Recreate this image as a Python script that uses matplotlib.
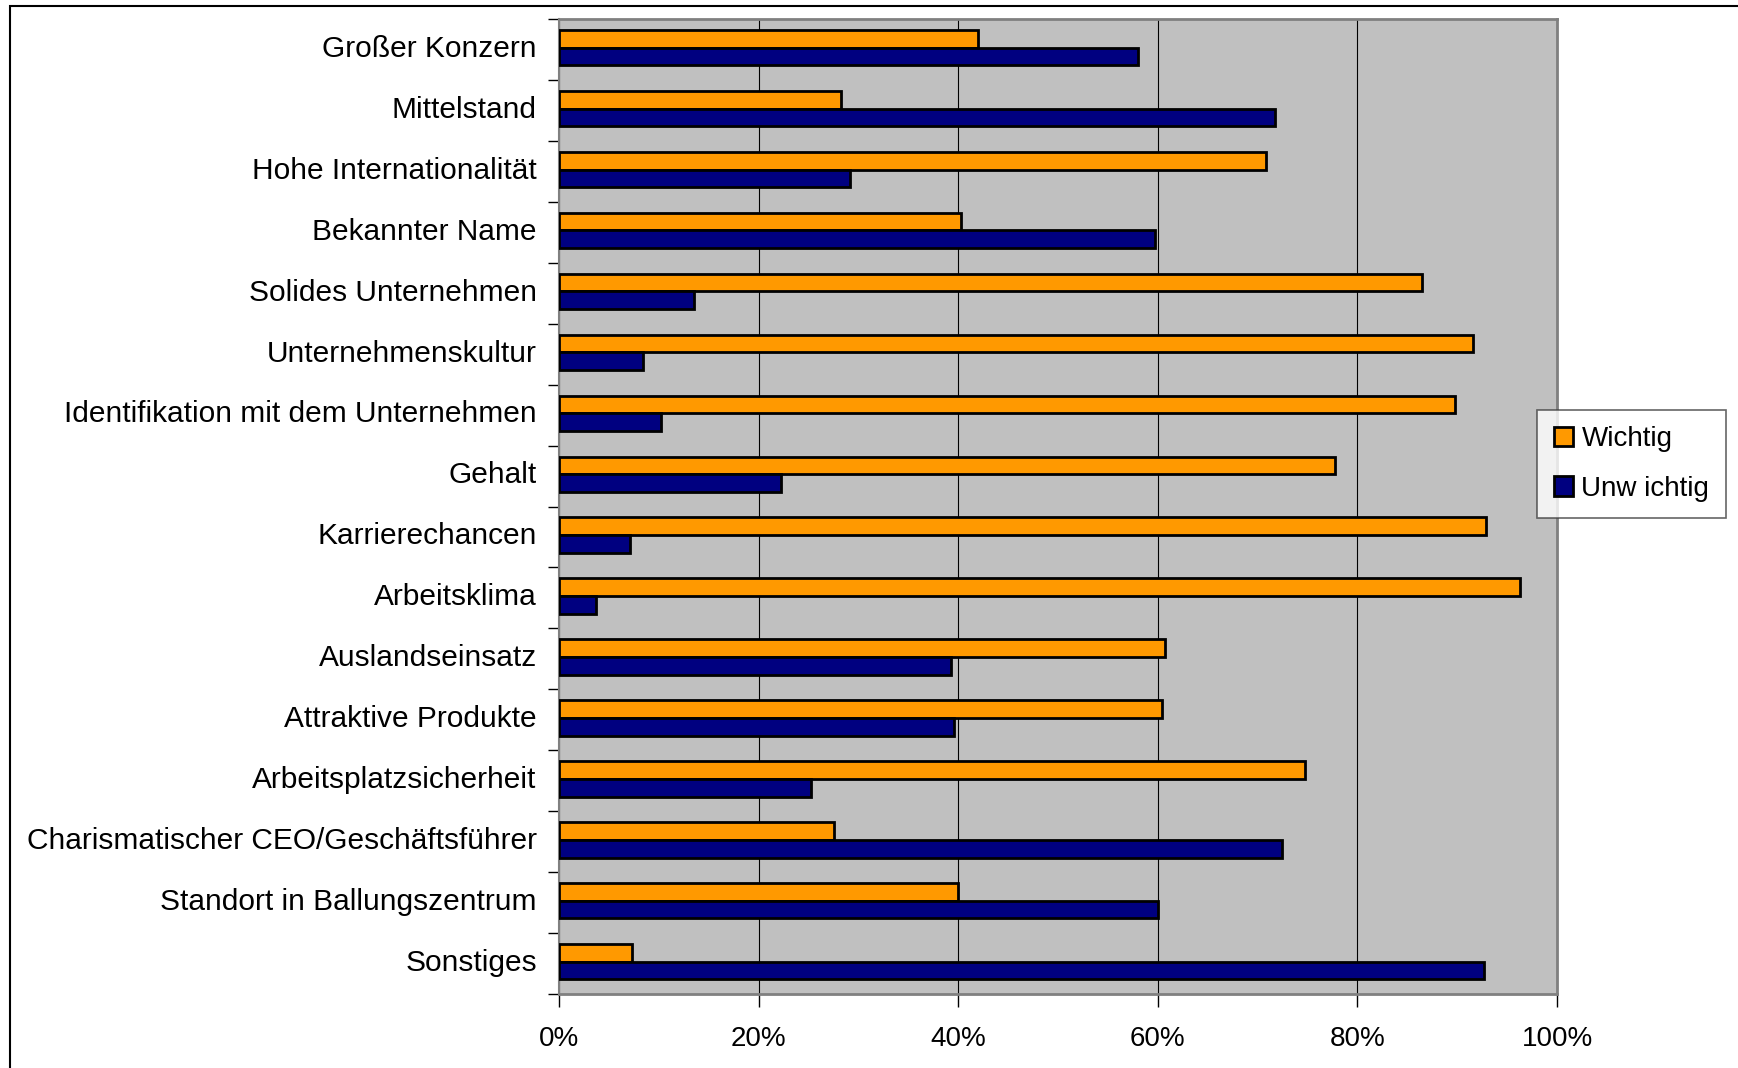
import matplotlib
matplotlib.use('Agg')
import matplotlib.pyplot as plt
import numpy as np
from matplotlib.patches import Rectangle
from matplotlib.ticker import FixedLocator, PercentFormatter

plt.rcParams['font.family'] = ['Liberation Sans', 'DejaVu Sans']

# Kriterien bei der Arbeitgeberwahl (von oben nach unten)
kategorien = [
    'Großer Konzern',
    'Mittelstand',
    'Hohe Internationalität',
    'Bekannter Name',
    'Solides Unternehmen',
    'Unternehmenskultur',
    'Identifikation mit dem Unternehmen',
    'Gehalt',
    'Karrierechancen',
    'Arbeitsklima',
    'Auslandseinsatz',
    'Attraktive Produkte',
    'Arbeitsplatzsicherheit',
    'Charismatischer CEO/Geschäftsführer',
    'Standort in Ballungszentrum',
    'Sonstiges',
]
wichtig = [42.0, 28.3, 70.8, 40.3, 86.5, 91.6, 89.8, 77.8, 92.9, 96.3,
           60.7, 60.4, 74.7, 27.6, 40.0, 7.3]
unwichtig = [58.0, 71.7, 29.2, 59.7, 13.5, 8.4, 10.2, 22.2, 7.1, 3.7,
             39.3, 39.6, 25.3, 72.4, 60.0, 92.7]

orange = '#FF9900'
navy = '#000080'

fig = plt.figure(figsize=(17.38, 10.68), dpi=100)
ax = fig.add_axes([559 / 1738, 1 - 994 / 1068, 998 / 1738, 975 / 1068])
ax.set_facecolor('#C0C0C0')

y = np.arange(len(kategorien))
h = 0.29
off = -0.03
ax.barh(y + off - h / 2, wichtig, height=h, color=orange, edgecolor='black',
        linewidth=2, label='Wichtig', zorder=3)
ax.barh(y + off + h / 2, unwichtig, height=h, color=navy, edgecolor='black',
        linewidth=2, label='Unw ichtig', zorder=3)

ax.set_xlim(0, 100)
ax.set_ylim(len(kategorien) - 0.5, -0.5)

ax.xaxis.set_major_locator(FixedLocator([0, 20, 40, 60, 80, 100]))
ax.xaxis.set_major_formatter(PercentFormatter(decimals=0))
ax.grid(axis='x', color='black', linewidth=0.8, zorder=1)
ax.tick_params(axis='x', length=9, width=1, direction='out', labelsize=20, pad=14)

# Striche zwischen den Kategorien, Beschriftungen etwa in der Mitte
ax.yaxis.set_major_locator(FixedLocator(np.arange(-0.5, len(kategorien), 1)))
ax.yaxis.set_major_formatter(plt.NullFormatter())
ax.yaxis.set_minor_locator(FixedLocator(y - 0.06))
ax.set_yticklabels(kategorien, minor=True)
ax.tick_params(axis='y', which='major', length=8, width=1, direction='out')
ax.tick_params(axis='y', which='minor', length=0, labelsize=21.5, pad=16)

for s in ['top', 'right', 'bottom']:
    ax.spines[s].set_color('#808080')
    ax.spines[s].set_linewidth(2)
ax.spines['left'].set_color('#808080')
ax.spines['left'].set_linewidth(1.5)

leg = ax.legend(loc='center left', bbox_to_anchor=(1537 / 1738, 1 - 464 / 1068),
                bbox_transform=fig.transFigure, fontsize=20, frameon=True,
                fancybox=False, edgecolor='#404040', handlelength=0.7,
                handleheight=0.7, handletextpad=0.3, labelspacing=0.85,
                borderpad=0.6, borderaxespad=0)
leg.get_frame().set_linewidth(1.2)

# Rahmen um das ganze Diagramm
fig.patches.append(Rectangle((10 / 1738, -0.1), 1.2, (1068 - 6) / 1068 + 0.1,
                             transform=fig.transFigure, fill=False,
                             edgecolor='black', linewidth=1.5))

fig.savefig('out.png', dpi=100)
